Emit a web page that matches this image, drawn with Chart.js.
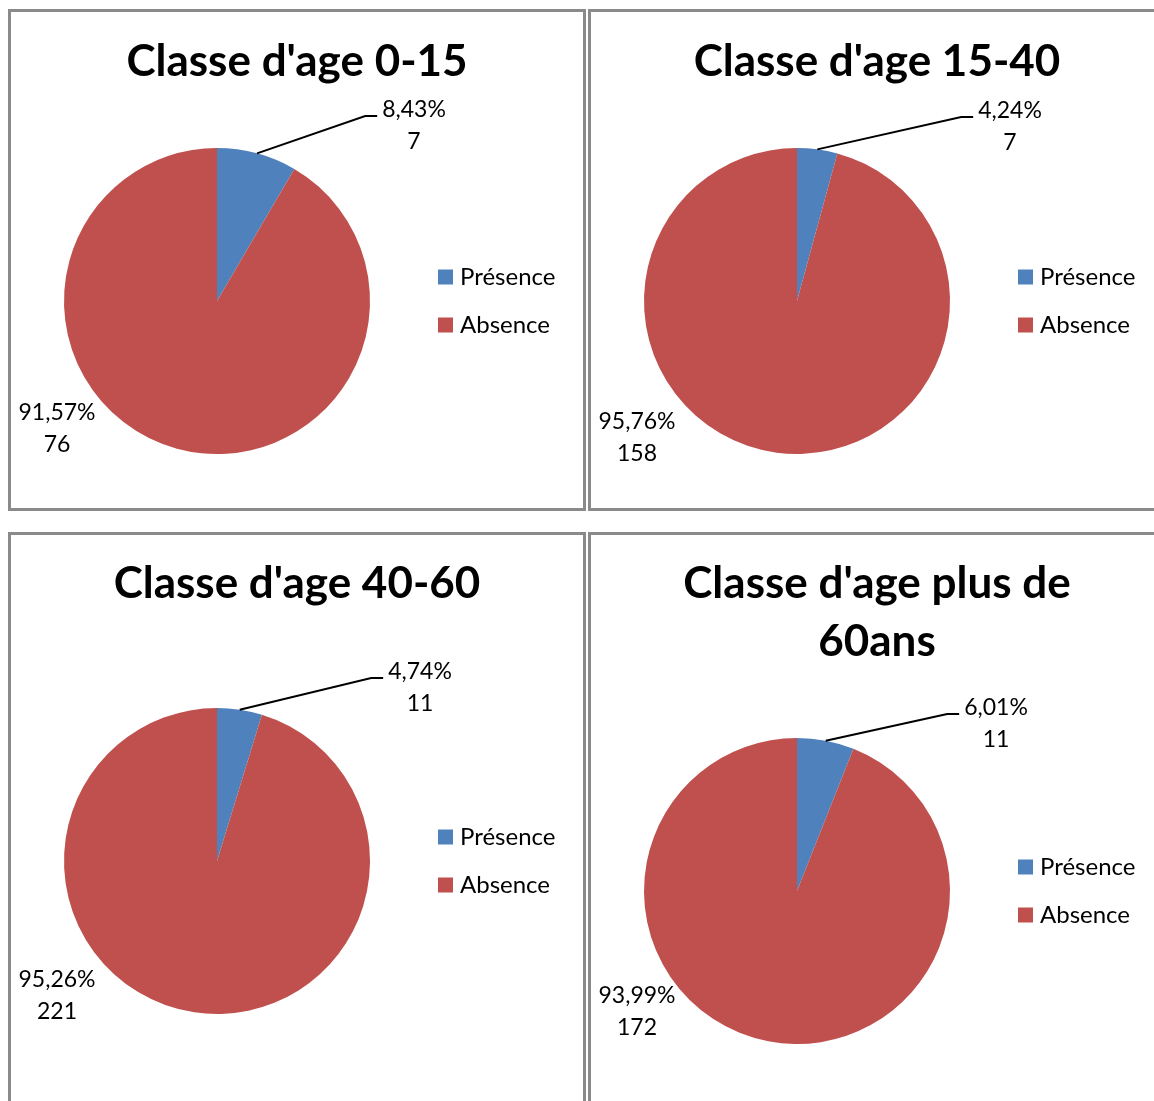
<!DOCTYPE html>
<html><head><meta charset="utf-8">
<script src="https://cdn.jsdelivr.net/npm/chart.js@4/dist/chart.umd.min.js"></script>
<style>
html,body{margin:0;padding:0;background:#fff;overflow:hidden;width:1154px;height:1101px;}
.panel{position:absolute;box-sizing:border-box;border:3px solid #8a8a8a;background:#fff;overflow:hidden;}
.panel canvas{position:absolute;left:0;top:0;}
</style></head><body>
<div class="panel" style="left:8px;top:9px;width:578px;height:502px"><canvas id="c0"></canvas></div>
<div class="panel" style="left:588px;top:9px;width:578px;height:502px"><canvas id="c1"></canvas></div>
<div class="panel" style="left:8px;top:532px;width:578px;height:600px"><canvas id="c2"></canvas></div>
<div class="panel" style="left:588px;top:532px;width:578px;height:600px"><canvas id="c3"></canvas></div>
<script>
// ---- data ----
const titles = [["Classe d'age 0-15"], ["Classe d'age 15-40"], ["Classe d'age 40-60"], ["Classe d'age plus de", "60ans"]];
const categories = ["Présence", "Absence"];
const presence = [7, 7, 11, 11];
const absence = [76, 158, 221, 172];

// ---- style / layout ----
const colors = ["#4F81BD", "#C0504D"];
const R = 153;
const layouts = [
  {w: 572, h: 496, cx: 206, cy: 289, titleY: [50],      pres: {dx: 197, dy: -191}, abs: {dx: -160, dy: 112}},
  {w: 572, h: 496, cx: 206, cy: 289, titleY: [50],      pres: {dx: 213, dy: -190}, abs: {dx: -160, dy: 121}},
  {w: 572, h: 594, cx: 206, cy: 326, titleY: [49],      pres: {dx: 203, dy: -189}, abs: {dx: -160, dy: 119}},
  {w: 572, h: 594, cx: 206, cy: 356, titleY: [49, 107], pres: {dx: 199, dy: -183}, abs: {dx: -160, dy: 105}}
];
const FONT = "Lato, 'Open Sans', sans-serif";

function pct(v, total) { return (v / total * 100).toFixed(2).replace('.', ',') + '%'; }

const decor = {
  id: 'decor',
  afterDraw(chart) {
    const i = chart.$idx, L = layouts[i];
    const ctx = chart.ctx;
    const meta = chart.getDatasetMeta(0);
    const arc0 = meta.data[0];
    const cx = arc0.x, cy = arc0.y, r = arc0.outerRadius;
    const vals = chart.data.datasets[0].data;
    const total = vals.reduce((a, b) => a + b, 0);
    ctx.save();
    // title
    ctx.fillStyle = '#000';
    ctx.font = "bold 44px " + FONT;
    ctx.textAlign = 'center'; ctx.textBaseline = 'middle';
    titles[i].forEach((t, k) => ctx.fillText(t, L.w / 2, L.titleY[k]));
    // presence label with leader
    ctx.font = "23px " + FONT;
    const px = cx + L.pres.dx, py = cy + L.pres.dy;
    const l1 = pct(vals[0], total);
    ctx.fillText(l1, px, py);
    ctx.fillText(String(vals[0]), px, py + 32);
    const w1 = ctx.measureText(l1).width;
    const mid = (arc0.startAngle + arc0.endAngle) / 2;
    const sx = cx + Math.cos(mid) * r, sy = cy + Math.sin(mid) * r;
    const ex = px - w1 / 2 - 5, ey = py + 6;
    ctx.strokeStyle = '#000'; ctx.lineWidth = 2;
    ctx.beginPath(); ctx.moveTo(sx, sy); ctx.lineTo(ex - 12, ey); ctx.lineTo(ex, ey); ctx.stroke();
    // absence label
    const ax = cx + L.abs.dx, ay = cy + L.abs.dy;
    ctx.fillText(pct(vals[1], total), ax, ay);
    ctx.fillText(String(vals[1]), ax, ay + 32);
    // legend
    ctx.font = "24px " + FONT;
    const lx = cx + 221;
    chart.data.labels.forEach((lab, k) => {
      const ly = cy - 24 + k * 48;
      ctx.fillStyle = colors[k];
      ctx.fillRect(lx, ly - 7.5, 15, 15);
      ctx.fillStyle = '#000';
      ctx.textAlign = 'left';
      ctx.fillText(lab, lx + 22, ly);
    });
    ctx.restore();
  }
};

function build() {
  layouts.forEach((L, i) => {
    const cv = document.getElementById('c' + i);
    cv.width = L.w; cv.height = L.h;
    cv.style.width = L.w + 'px'; cv.style.height = L.h + 'px';
    new Chart(cv, {
      type: 'pie',
      data: {labels: categories, datasets: [{data: [presence[i], absence[i]], backgroundColor: colors, borderWidth: 0, hoverOffset: 0}]},
      options: {
        responsive: false, animation: false, devicePixelRatio: 1,
        layout: {padding: {left: L.cx - R, right: L.w - L.cx - R, top: L.cy - R, bottom: L.h - L.cy - R}},
        plugins: {legend: {display: false}, title: {display: false}, tooltip: {enabled: false}}
      },
      plugins: [{id: 'idx', beforeInit(c) { c.$idx = i; }}, decor]
    });
  });
}
Promise.all([document.fonts.load("bold 44px Lato"), document.fonts.load("23px Lato")]).then(build, build);
</script>
</body></html>
